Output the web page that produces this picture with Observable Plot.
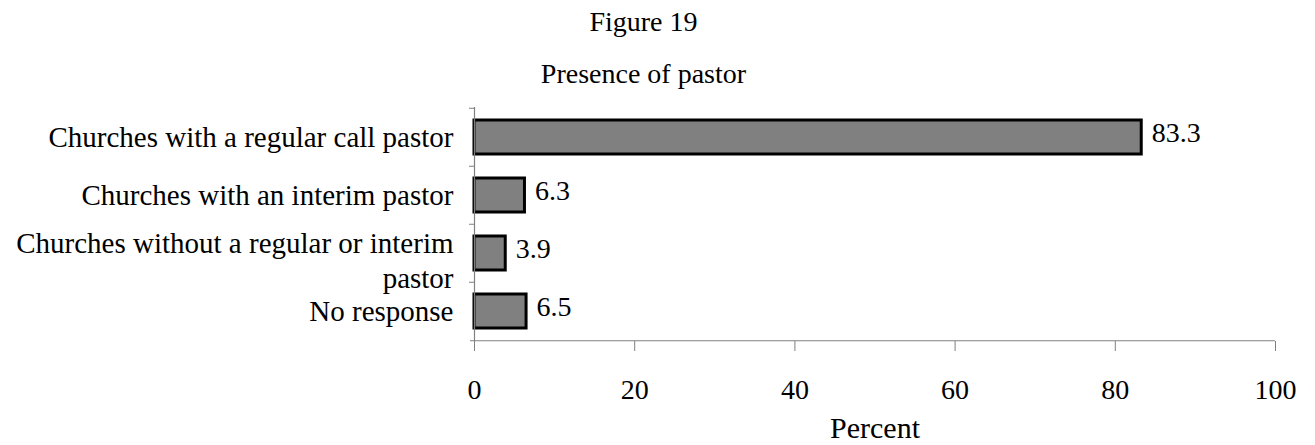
<!DOCTYPE html>
<html><head><meta charset="utf-8">
<script src="https://cdn.jsdelivr.net/npm/d3@7"></script>
<script src="https://cdn.jsdelivr.net/npm/@observablehq/plot@0.6"></script>
<style>
body{margin:0;background:#fff;font-family:"Liberation Serif","Times New Roman",serif;}
#wrap{position:relative;width:1315px;height:445px;overflow:hidden;}
#head{position:relative;width:1315px;height:95px;}
.t{position:absolute;left:0;width:1287px;text-align:center;font-size:28px;line-height:28px;color:#000;}
</style></head><body>
<div id="wrap">
  <div id="head">
    <div class="t" id="title" style="top:8px"></div>
    <div class="t" id="sub" style="top:60px"></div>
  </div>
  <div id="chart"></div>
</div>
<script>
const titleText = "Figure 19";
const subtitleText = "Presence of pastor";
const categories = [
  "Churches with a regular call pastor",
  "Churches with an interim pastor",
  "Churches without a regular or interim pastor",
  "No response"
];
const categoryLabels = [
  "Churches with a regular call pastor",
  "Churches with an interim pastor",
  "Churches without a regular or interim\npastor",
  "No response"
];
const values = [83.3, 6.3, 3.9, 6.5];
const valueLabels = ["83.3", "6.3", "3.9", "6.5"];
const xTicks = [0, 20, 40, 60, 80, 100];
const xLabel = "Percent";

document.getElementById("title").textContent = titleText;
document.getElementById("sub").textContent = subtitleText;

const data = categories.map((c, i) => ({category: c, value: values[i], label: valueLabels[i]}));
const labelOf = new Map(categories.map((c, i) => [c, categoryLabels[i]]));

const W = 1315, H = 350, mTop = 12, mBottom = 104, mLeft = 474, mRight = 40;
const halfStep = (H - mTop - mBottom) / categories.length / 2;
const axisGray = "#808080";
const wrapped = categories.filter((c, i) => categoryLabels[i].includes("\n"));
const single = categories.filter((c, i) => !categoryLabels[i].includes("\n"));

const chart = Plot.plot({
  width: W, height: H,
  marginTop: mTop, marginBottom: mBottom, marginLeft: mLeft, marginRight: mRight,
  style: {fontFamily: "'Liberation Serif', 'Times New Roman', serif", fontSize: "28px", color: "black", background: "white"},
  x: {domain: [0, 100]},
  y: {domain: categories, paddingInner: 0.42, paddingOuter: 0.21},
  marks: [
    Plot.barX(data, {x: "value", y: "category", fill: "#808080", stroke: "black", strokeWidth: 3}),
    Plot.ruleX([0], {stroke: axisGray, strokeWidth: 1.2}),
    Plot.ruleY(categories.slice(-1), {y: d => d, dy: halfStep, stroke: axisGray, strokeWidth: 1.2, insetLeft: -4}),
    Plot.axisX({ticks: xTicks, tickSize: 10, tickPadding: 28, stroke: axisGray, fill: "black", fontSize: 28, label: null, tickFormat: d => String(d)}),
    Plot.axisY({ticks: categories, tickSize: 5, dy: -halfStep, text: null, stroke: axisGray, label: null}),
    Plot.axisY({ticks: single, tickSize: 0, tickPadding: 21, fill: "black", fontSize: 29, label: null, tickFormat: d => labelOf.get(d)}),
    Plot.axisY({ticks: wrapped, tickSize: 0, tickPadding: 21, fill: "black", fontSize: 29, lineHeight: 1.2, dy: 6, label: null, tickFormat: d => labelOf.get(d)}),
    Plot.text(data, {x: "value", y: "category", text: "label", textAnchor: "start", dx: 10, dy: -4, fontSize: 28, fill: "black"}),
    Plot.text([xLabel], {frameAnchor: "bottom", dy: 87, lineAnchor: "middle", fontSize: 30, fill: "black"})
  ]
});
document.getElementById("chart").appendChild(chart);
</script>
</body></html>
